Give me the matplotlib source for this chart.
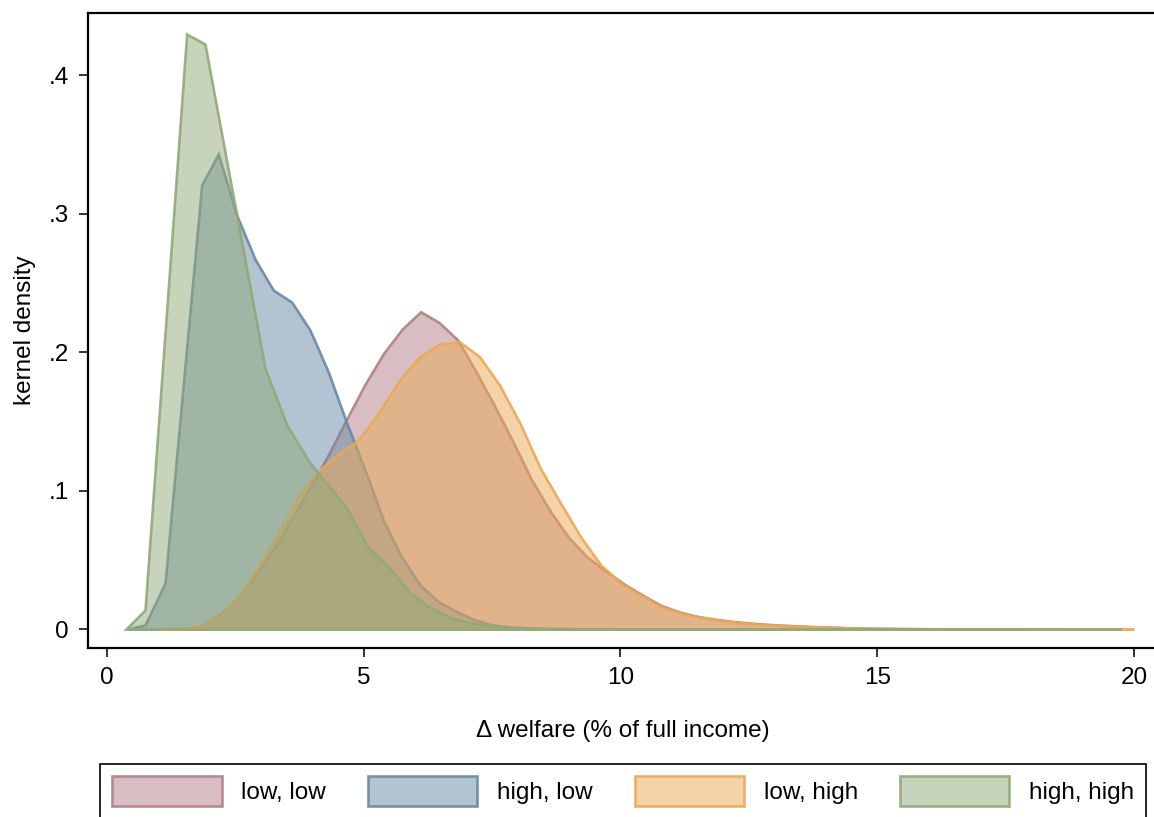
import matplotlib.pyplot as plt
from matplotlib.colors import to_rgb
from matplotlib.patches import Patch

plt.rcParams['font.family'] = ['Liberation Sans', 'DejaVu Sans']

# kernel density of welfare change, by group
x_low_low = [1.065, 1.426, 1.786, 2.146, 2.506, 2.867, 3.227, 3.587, 3.947, 4.308, 4.668, 5.028,
             5.389, 5.749, 6.109, 6.469, 6.830, 7.190, 7.550, 7.910, 8.271, 8.631, 8.991, 9.352,
             9.712, 10.072, 10.432, 10.793, 11.153, 11.513, 11.873, 12.234, 12.594, 12.954, 13.315,
             13.675, 14.035, 14.395, 14.756, 15.116, 15.476, 16.197, 18.70]
y_low_low = [0, .0004, .0015, .0090, .0209, .0375, .0570, .0791, .1018, .1256, .1516, .1769,
             .1992, .2166, .2291, .2213, .2087, .1856, .1610, .1350, .1076, .0852, .0661, .0520,
             .0419, .0325, .0245, .0170, .0123, .0090, .0069, .0053, .0041, .0032, .0025,
             .0019, .0014, .0010, .0007, .0005, .0003, .0001, 0]

x_high_low = [0.384, 0.740, 1.130, 1.844, 2.167, 2.526, 2.882, 3.239, 3.597, 3.953, 4.310, 4.668,
              5.024, 5.381, 5.739, 6.096, 6.452, 6.810, 7.167, 7.523, 7.881, 8.238, 8.822, 17.9]
y_high_low = [0, .0029, .0332, .3206, .3430, .2989, .2671, .2447, .2361, .2159, .1856, .1488,
              .1148, .0787, .0520, .0318, .0198, .0125, .0065, .0029, .0014, .0007, .0002, 0]

x_low_high = [0.964, 1.357, 1.751, 2.144, 2.538, 2.931, 3.324, 3.718, 4.111, 4.504, 4.898, 5.291,
              5.685, 6.078, 6.471, 6.865, 7.258, 7.651, 8.045, 8.438, 8.832, 9.225, 9.618, 10.012,
              10.405, 10.799, 11.192, 11.585, 11.979, 12.372, 12.765, 13.159, 13.552, 13.945,
              14.339, 14.732, 15.126, 15.519, 15.912, 16.306, 20.0]
y_low_high = [0, .0004, .0018, .0083, .0224, .0440, .0679, .0953, .1140, .1264, .1365, .1560,
              .1790, .1962, .2058, .2074, .1966, .1758, .1484, .1162, .0910, .0666, .0462, .0330,
              .0245, .0161, .0116, .0083, .0061, .0045, .0033, .0025, .0018, .0013,
              .0009, .0006, .0004, .0003, .0002, .0001, 0]

x_high_high = [0.37, 0.74, 1.552, 1.908, 3.077, 3.500, 3.953, 4.668, 5.083, 5.492, 5.901, 6.310,
               6.719, 7.108, 7.517, 7.907, 8.432, 9.211, 19.75]
y_high_high = [0, .0137, .4296, .4224, .1884, .1473, .1199, .0873, .0592, .0448, .0260, .0152,
               .0079, .0043, .0022, .0011, .0005, .0001, 0]

labels = ["low, low", "high, low", "low, high", "high, high"]
colors = ["#b37f87", "#6989a5", "#eba953", "#91a979"]

xticks = [0, 5, 10, 15, 20]
yticks = [0, .1, .2, .3, .4]
ytick_labels = ["0", ".1", ".2", ".3", ".4"]

FS = 17.5
W, H = 1154, 817

fig = plt.figure(figsize=(W / 100, H / 100), dpi=100)
ax = fig.add_axes([88 / W, 1 - 648 / H, (1157 - 88) / W, (648 - 13) / H])

series = [(x_low_low, y_low_low), (x_high_low, y_high_low),
          (x_low_high, y_low_high), (x_high_high, y_high_high)]
handles = []
for (xs, ys), c, lab in zip(series, colors, labels):
    rgb = to_rgb(c)
    ax.fill_between(xs, ys, 0, facecolor=(*rgb, 0.5), edgecolor=(*rgb, 0.9),
                    linewidth=1.9, joinstyle='miter')
    handles.append(Patch(facecolor=(*rgb, 0.5), edgecolor=(*rgb, 0.9), linewidth=1.9, label=lab))

ax.set_xlim(-0.37, 20.45)
ax.set_ylim(-0.0137, 0.4448)
ax.set_xticks(xticks)
ax.set_xticklabels([str(t) for t in xticks])
ax.set_yticks(yticks)
ax.set_yticklabels(ytick_labels)
ax.tick_params(axis='both', direction='out', length=6.5, width=1.1, labelsize=FS, pad=7.5)

for s in ax.spines.values():
    s.set_linewidth(1.6)
ax.spines['right'].set_visible(False)

ax.set_xlabel("\u0394 welfare (% of full income)", fontsize=FS)
ax.xaxis.set_label_coords(0.5, (648 - 731) / 635)
ax.xaxis.label.set_va('center')
ax.set_ylabel("kernel density", fontsize=FS)
ax.yaxis.set_label_coords((25 - 88) / 1069, 0.5)
ax.yaxis.label.set_va('center')

leg = fig.legend(handles=handles, ncol=4, loc='upper left',
                 bbox_to_anchor=(100 / W, 1 - 764 / H), borderaxespad=0,
                 frameon=True, fancybox=False, edgecolor='black', framealpha=1,
                 fontsize=FS, handlelength=4.5, handleheight=1.5, handletextpad=0.8,
                 columnspacing=1.74, borderpad=0.5)
leg.get_frame().set_linewidth(1.2)

fig.savefig("out.png", dpi=100)
